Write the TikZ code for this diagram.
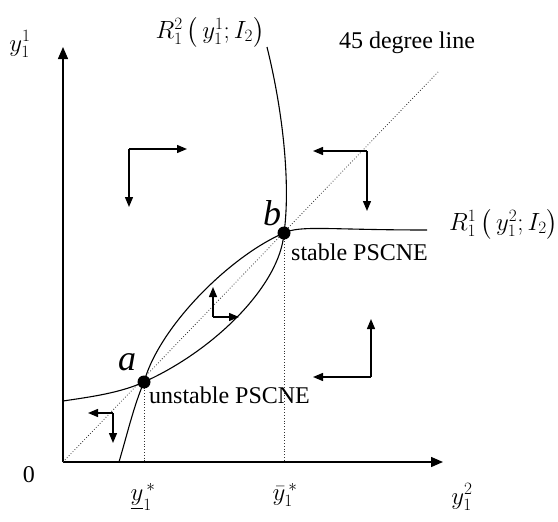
\documentclass[tikz,border=0pt]{standalone}
\usepackage{amsmath}
\usepackage{fontspec}
\setmainfont{Liberation Serif}
\usetikzlibrary{arrows.meta}
\tikzset{
  axis/.style={-{Triangle[length=12pt,width=10pt]}, line width=1.4pt},
  resp/.style={line width=1.1pt},
  flow/.style={-{Triangle[length=10pt,width=8pt]}, line width=1.3pt},
  guide/.style={dotted, line width=0.8pt, draw=black!80},
  eqdot/.style={circle, fill=black, minimum size=13pt, inner sep=0pt},
  eqlabel/.style={font=\fontsize{36}{36}\selectfont\itshape, inner sep=0pt},
  lbl/.style={font=\fontsize{24}{26}\selectfont, inner sep=0pt},
  mlbl/.style={font=\fontsize{27}{38}\selectfont, inner sep=0pt}
}

\begin{document}
\begin{tikzpicture}[x=1pt, y=-1pt]
  \useasboundingbox (0,0) rectangle (558,522);

  % axes
  \coordinate (o) at (63,462);
  \coordinate (ytop) at (63,47);
  \coordinate (xend) at (443,462);
  \draw[axis] (o) -- (ytop);
  \draw[axis] (o) -- (xend);

  % 45 degree line
  \coordinate (dtop) at (438,72);
  \draw[guide] (o) -- (dtop);

  % equilibria
  \coordinate (a) at (144,382);
  \coordinate (b) at (284,233);
  \coordinate (afoot) at (144,462);
  \coordinate (bfoot) at (284,462);
  \draw[guide] (a) -- (afoot);
  \draw[guide] (b) -- (bfoot);

  % response curves
  \draw[resp] (119,462) .. controls (127,435) and (134,405) .. (a)
    .. controls (160,325) and (232,255) .. (b)
    .. controls (300,225) and (330,230) .. (427,230);
  \draw[resp] (267,47) .. controls (285,120) and (290,190) .. (b)
    .. controls (280,285) and (215,350) .. (a)
    .. controls (120,393) and (90,397) .. (63,401);

  \node[eqdot] (adot) at (a) {};
  \node[eqdot] (bdot) at (b) {};

  % flow arrows
  \foreach \i/\cx/\cy/\hx/\vy in {1/129/149/187/207, 2/367/151/313/211,
      3/213/317/239/287, 4/371/377/313/319, 5/113/413/88/443} {
    \coordinate (f\i) at (\cx,\cy);
    \coordinate (fh\i) at (\hx,\cy);
    \coordinate (fv\i) at (\cx,\vy);
    \draw[flow] (f\i) -- (fh\i);
    \draw[flow] (f\i) -- (fv\i);
  }

  % labels
  \node[eqlabel] (alab) at (127,362) {a};
  \node[eqlabel] (blab) at (272,213) {b};
  \node[lbl, anchor=west] (stab) at (291,252) {stable PSCNE};
  \node[lbl, anchor=west] (unstab) at (149,395) {unstable PSCNE};
  \node[lbl] (deg) at (407,43) {45 degree line};
  \node[mlbl] (r2) at (210,32) {$R_1^2\,\bigl(\,y_1^1;I_2\bigr)$};
  \node[mlbl, anchor=west] (r1) at (449,224) {$R_1^1\,\bigl(\,y_1^2;I_2\bigr)$};
  \node[mlbl] (ylab) at (20,44) {$y_1^1$};
  \node[mlbl] (xlab) at (462,497) {$y_1^2$};
  \node[lbl] (zero) at (29,475) {0};
  \node[mlbl] (ylow) at (143,497) {$\underline{y}_1^{\,*}$};
  \node[mlbl] (yhigh) at (285,495) {$\bar{y}_1^{\,*}$};
\end{tikzpicture}
\end{document}
